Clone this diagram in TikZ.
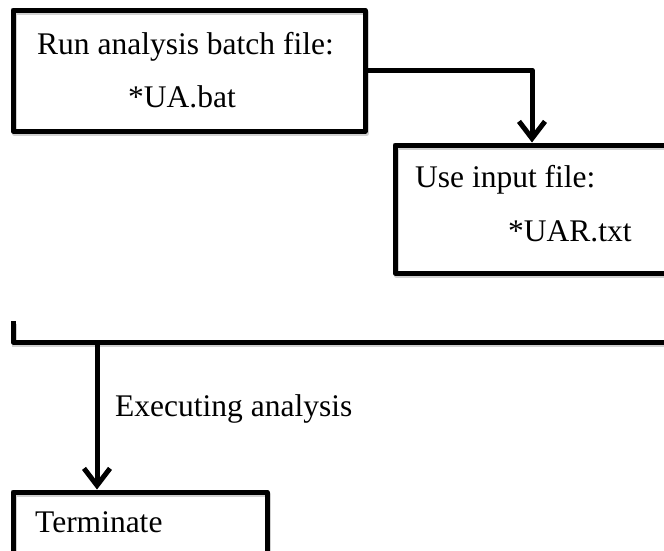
\documentclass[tikz,border=0pt]{standalone}
\usepackage{fontspec}
\setmainfont{Liberation Serif}
\usetikzlibrary{arrows.meta}
\tikzset{
  softshadow/.style={preaction={draw=black!18, line width=5.5pt,
    transform canvas={shift={(1.5pt,-2.5pt)}}}},
  flowbox/.style={draw=black, line width=5pt, rectangle, inner sep=0pt,
    line join=round, softshadow},
  flowline/.style={draw=black, line width=5pt, line join=round, softshadow},
  flowarrow/.style={draw=black, line width=5pt, line join=round,
    -{Straight Barb[length=17pt,width=26pt]}},
  flowtext/.style={anchor=base west, inner sep=0pt,
    font=\fontsize{31.5}{38}\selectfont},
}
\begin{document}
\begin{tikzpicture}[x=1pt, y=-1pt]
  \useasboundingbox (0,0) rectangle (664,550);
  \clip (0,0) rectangle (664,550);

  % boxes
  \node[flowbox, minimum width=352pt, minimum height=121pt] (run) at (189,70.5) {};
  \node[flowbox, minimum width=295pt, minimum height=128pt] (use) at (542.5,209) {};
  \node[flowbox, minimum width=254pt, minimum height=88pt] (term) at (140,536) {};

  % box texts
  \node[flowtext] (runA) at (37,54) {Run analysis batch file:};
  \node[flowtext] (runB) at (128,107) {*UA.bat};
  \node[flowtext] (useA) at (415,187) {Use input file:};
  \node[flowtext] (useB) at (508,241) {*UAR.txt};
  \node[flowtext] (termA) at (35,532) {Terminate};

  % bracket collecting the analysis steps
  \coordinate (brL) at (13,321);
  \coordinate (brR) at (672,321);
  \coordinate (brk) at (97,342);
  \draw[flowline] (brL) |- (brR |- brk) -- (brR);

  % connectors
  \coordinate (bend) at (532,70);
  \draw[flowarrow] (run.east |- bend) -- (bend) -- (bend |- use.north);
  \draw[flowarrow] (brk) -- (brk |- term.north);

  \node[flowtext] (exec) at (115,416) {Executing analysis};
\end{tikzpicture}
\end{document}
